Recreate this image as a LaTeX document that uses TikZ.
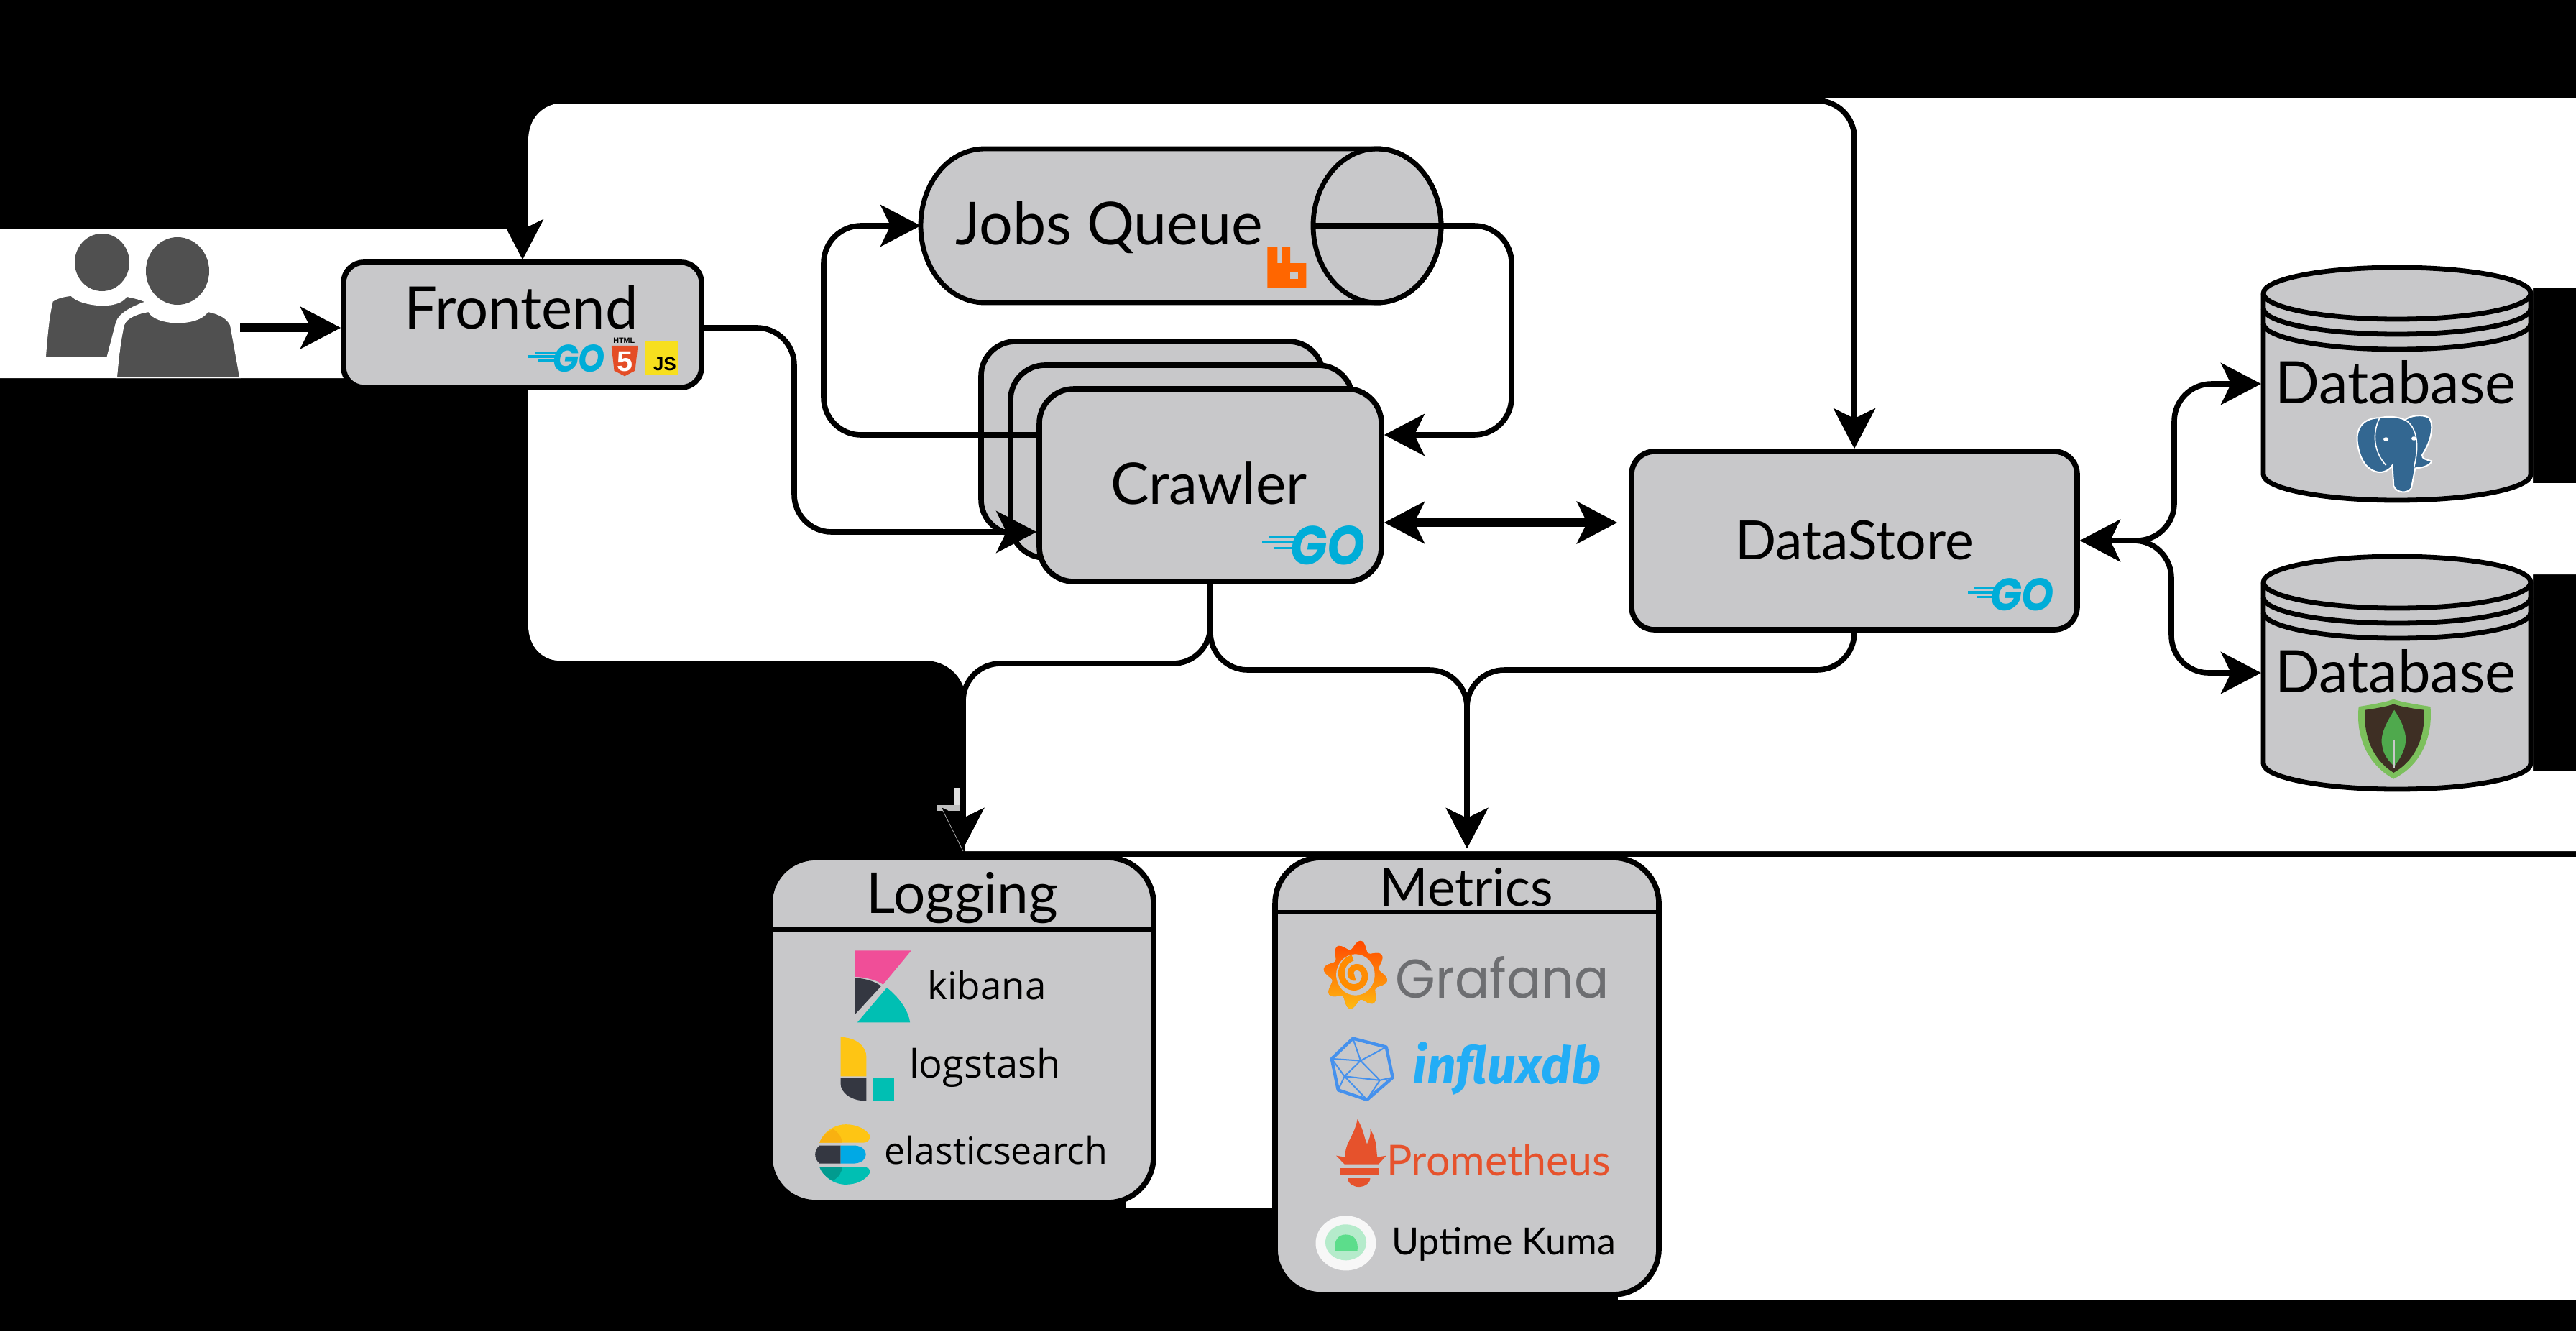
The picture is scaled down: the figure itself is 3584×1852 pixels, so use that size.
\documentclass[tikz,border=0pt]{standalone}
\usepackage{fontspec}
\usepackage{graphicx}
\usetikzlibrary{arrows.meta,calc}
\setmainfont{Lato}
\newfontfamily\opens{Open Sans}
\newfontfamily\fira{Fira Sans}
\newfontfamily\popp{Poppins}
\newfontfamily\libs{Liberation Sans}
\definecolor{boxgrey}{HTML}{C8C8CA}
\definecolor{gocyan}{HTML}{00ADD8}
\definecolor{peoplegrey}{HTML}{505050}
\definecolor{htmlorange}{HTML}{E44D26}
\definecolor{jsyellow}{HTML}{F7DF1E}
\definecolor{rabbit}{HTML}{FF6600}
\definecolor{pgblue}{HTML}{336791}
\definecolor{mgouter}{HTML}{7CC05C}
\definecolor{mgdark}{HTML}{3E2F24}
\definecolor{mgleaf}{HTML}{4FA94D}
\definecolor{kbpink}{HTML}{F04E98}
\definecolor{kbdark}{HTML}{343741}
\definecolor{kbteal}{HTML}{00BFB3}
\definecolor{lsyellow}{HTML}{FEC514}
\definecolor{esblue}{HTML}{00A9E5}
\definecolor{essliver}{HTML}{F9B110}
\definecolor{estealdk}{HTML}{019B8F}
\definecolor{gfgrey}{HTML}{6D6E71}
\definecolor{ifblue}{HTML}{22ADF6}
\definecolor{ifhex}{HTML}{4591ED}
\definecolor{promorange}{HTML}{E6522C}
\definecolor{kumalight}{HTML}{B5EBCB}
\definecolor{kumadark}{HTML}{5CDD8B}
\newcommand\wfit[2]{\pgfmathsetmacro\wfv{#1/4}\resizebox{\wfv pt}{!}{#2}}
\newcommand\gologo[6]{%
  \pgfmathsetmacro\gow{(#4-#3)/4}\pgfmathsetmacro\goh{(#6-#5)/4}
  \node[inner sep=0pt,text=gocyan] (#1) at ({(#3+#4)/2},{(#5+#6)/2}) {\resizebox{\gow pt}{\goh pt}{\popp\bfseries\itshape GO}};
  \draw[gocyan,line width=.8pt] ({#2+.25*(#3-#2)},{#5+.28*(#6-#5)}) -- ({#3+.1*(#4-#3)},{#5+.28*(#6-#5)});
  \draw[gocyan,line width=.8pt] (#2,{#5+.42*(#6-#5)}) -- ({#3+.05*(#4-#3)},{#5+.42*(#6-#5)});
  \draw[gocyan,line width=.8pt] ({#2+.4*(#3-#2)},{#5+.56*(#6-#5)}) -- ({#3+.03*(#4-#3)},{#5+.56*(#6-#5)});
}
\newcommand\dbcyl[2]{%
  \filldraw[fill=boxgrey,draw=black,line width=1.7pt]
    ({#1-186},{#2+36}) -- ({#1-186},{#2+288})
    .. controls ({#1-186},{#2+288+.552*36}) and ({#1-.552*186},{#2+324}) .. ({#1},{#2+324})
    .. controls ({#1+.552*186},{#2+324}) and ({#1+186},{#2+288+.552*36}) .. ({#1+186},{#2+288})
    -- ({#1+186},{#2+36})
    .. controls ({#1+186},{#2+36-.552*36}) and ({#1+.552*186},{#2}) .. ({#1},{#2})
    .. controls ({#1-.552*186},{#2}) and ({#1-186},{#2+36-.552*36}) .. ({#1-186},{#2+36}) -- cycle;
  \foreach \ringoff in {36,57,78}{
    \draw[black,line width=1.7pt]
      ({#1-186},{#2+\ringoff})
      .. controls ({#1-186},{#2+\ringoff+.552*36}) and ({#1-.552*186},{#2+\ringoff+36}) .. ({#1},{#2+\ringoff+36})
      .. controls ({#1+.552*186},{#2+\ringoff+36}) and ({#1+186},{#2+\ringoff+.552*36}) .. ({#1+186},{#2+\ringoff});
  }
}
\tikzset{
  >={Stealth[length=14pt,width=14.5pt,inset=3.5pt]},
  conn/.style={draw=black,line width=1.9pt,rounded corners=13pt},
  connthick/.style={conn,line width=3pt},
  boxn/.style={draw=black,fill=boxgrey,line width=1.9pt,inner sep=0pt},
  anchorn/.style={inner sep=0pt,outer sep=0pt},
  labeln/.style={inner sep=0pt,text=black},
}
\begin{document}
\begin{tikzpicture}[x=.25pt,y=-.25pt]
\useasboundingbox (0,0) rectangle (3584,1852);
% background
\fill[black] (0,0) rectangle (3584,1852);
\fill[white] (786,143) -- (786,136) -- (3584,136) -- (3584,400) -- (3524,400) -- (3524,672) -- (3584,672) -- (3584,799) -- (3524,799) -- (3524,1072) -- (3584,1072) -- (3584,1184) -- (1343,1184) -- (1343,975) .. controls (1343,945) and (1320,920) .. (1287,920) -- (783,920) .. controls (755,920) and (735,900) .. (735,870) -- (735,526) -- (0,526) -- (0,319) -- (735,319) -- (735,195) .. controls (735,165) and (755,143) .. (786,143) -- cycle;
\fill[white] (1343,1192) -- (3584,1192) -- (3584,1808) -- (2251,1808) -- (2251,1680) -- (1566,1680) -- (1566,1600) -- (1343,1600) -- cycle;
\fill[white!88!black] (1328,1096) rectangle (1336,1128);
\fill[white!75!black] (1304,1120) rectangle (1336,1128);
\coordinate (railT) at (0,140);
\coordinate (railL) at (0,923);
\coordinate (railM) at (0,932);
\coordinate (busU) at (3025,0);
\coordinate (busD) at (3021,0);
\coordinate (feX) at (1105,0);
\coordinate (jqL) at (1146,0);
\coordinate (jqR) at (2103,0);
% people
\node[anchorn,minimum width=68pt,minimum height=50pt] (users) at (198,425) {};
\fill[peoplegrey] (142,365) ellipse [x radius=38,y radius=40];
\filldraw[fill=peoplegrey,draw=white,line width=.4pt] (63,498) .. controls (66,460) and (68,440) .. (73,419) .. controls (80,414) and (90,412) .. (99,411) .. controls (110,425) and (165,432) .. (176,412) .. controls (185,414) and (195,416) .. (203,420) .. controls (175,430) and (163,440) .. (161,452) -- (149,498) -- cycle;
\fill[peoplegrey] (247,377) ellipse [x radius=44,y radius=47];
\filldraw[fill=peoplegrey,draw=white,line width=.5pt] (162,525) .. controls (165,490) and (168,470) .. (172,452) .. controls (176,440) and (195,435) .. (207,433) .. controls (215,452) and (275,455) .. (289,433) .. controls (305,436) and (316,442) .. (321,452) .. controls (326,480) and (330,500) .. (334,525) -- cycle;
% boxes
\node[boxn,rounded corners=7pt,minimum width=124.5pt,minimum height=43.5pt] (fe) at (727,452) {};
\node[labeln] (feL) at (725,428) {\wfit{325}{Frontend}};
\node[anchorn,minimum width=181pt,minimum height=53.5pt] (jq) at (1643,314) {};
\filldraw[fill=boxgrey,draw=black,line width=1.7pt] (1370,207) .. controls (1320,207) and (1281,255) .. (1281,314) .. controls (1281,373) and (1320,421) .. (1370,421) -- (1916,421) .. controls (1965,421) and (2005,373) .. (2005,314) .. controls (2005,255) and (1965,207) .. (1916,207) -- cycle;
\draw[black,line width=1.7pt] (1916,314) ellipse [x radius=89,y radius=107];
\node[labeln] (jqLabel) at (1543,316) {\wfit{428}{Jobs Queue}};
\node[boxn,rounded corners=12pt,minimum width=119pt,minimum height=67pt] (crC) at (1603,609) {};
\node[boxn,rounded corners=12pt,minimum width=119pt,minimum height=67pt] (crB) at (1644,642) {};
\node[boxn,rounded corners=12pt,minimum width=119pt,minimum height=67pt] (cr) at (1684,675) {};
\node[labeln] (crL) at (1682,672) {\wfit{274}{Crawler}};
\node[boxn,rounded corners=8pt,minimum width=155pt,minimum height=62pt] (ds) at (2580,752) {};
\node[labeln] (dsL) at (2580,752) {\wfit{331}{DataStore}};
\dbcyl{3335}{372}
\node[anchorn,minimum width=94.5pt,minimum height=81pt] (db1) at (3335,534) {};
\node[labeln] (db1L) at (3333,532) {\wfit{335}{Database}};
\dbcyl{3335}{774}
\node[anchorn,minimum width=94.5pt,minimum height=81pt] (db2) at (3335,936) {};
\node[labeln] (db2L) at (3333,934) {\wfit{335}{Database}};
% logging & metrics
\node[boxn,rounded corners=16pt,minimum width=133.5pt,minimum height=120pt] (lg) at (1338,1433) {};
\draw[black,line width=1.5pt] (1071,1293) -- (1605,1293);
\node[labeln] (lgL) at (1339,1249) {\wfit{266}{Logging}};
\node[boxn,rounded corners=16pt,minimum width=133.5pt,minimum height=152pt] (mx) at (2041,1497) {};
\draw[black,line width=1.5pt] (1774,1269) -- (2308,1269);
\node[labeln] (mxL) at (2040,1234) {\wfit{241}{Metrics}};
\coordinate (lgT) at ($(lg.north)+(2,-9)$);
\coordinate (mxT) at ($(mx.north)+(0,-9)$);
% connectors
\draw[connthick,->] ($(users.east)+(0,31)$) -- ($(fe.west)+(0,4)$);
\draw[conn,<->] (fe.north) |- (ds.north |- railT) -- (ds.north);
\draw[conn,->] (fe.south) |- (lgT |- railL) -- (lgT);
\draw[conn,->] (cr.south) |- (lgT |- railL) -- (lgT);
\draw[conn,->] (cr.south) |- (mxT |- railM) -- (mxT);
\draw[conn,->] (ds.south) |- (mxT |- railM) -- (mxT);
\draw[conn,->] ($(fe.east)+(0,4)$) -- (feX |- 0,456) -- (feX |- 0,740) -- ($(cr.west)+(0,65)$);
\draw[conn,->] ($(cr.west)+(0,-70)$) -- (jqL |- 0,605) -- (jqL |- jq.west) -- (jq.west);
\draw[conn,->] ($(jq.east)+(-179,0)$) -- (jqR |- jq.east) -- (jqR |- 0,605) -- ($(cr.east)+(0,-70)$);
\draw[connthick,<->] ($(cr.east)+(0,52)$) -- ($(ds.west)+(-16,-25)$);
\draw[conn,<->] (ds.east) -- (busU |- ds.east) -- (busU |- db1.west) -- (db1.west);
\draw[conn,<->] (ds.east) -- (busD |- ds.east) -- (busD |- db2.west) -- (db2.west);
\draw[white!70!black,line width=.2pt] (1312,1128) -- (1340,1184);
% Frontend logos
\gologo{goFe}{735}{769}{842}{480}{518}
\begin{scope}[shift={(0,100)},xscale=.765,yscale=.51]
  \fill[htmlorange] (1112,747) -- (1160,747) -- (1155,815) -- (1136,830) -- (1117,815) -- cycle;
  \node[inner sep=0pt,text=white] (h5) at (1136,790) {\wfit{22}{\libs\bfseries 5}};
  \node[inner sep=0pt,text=black] (h5t) at (1135,733) {\wfit{30}{\libs\bfseries HTML}};
  \fill[jsyellow] (1172,733) rectangle (1233,828);
  \node[inner sep=0pt,text=black] (js) at (1209,798) {\wfit{32}{\libs\bfseries JS}};
\end{scope}
% rabbit
\begin{scope}[shift={(1100,100)},xscale=.702,yscale=.51]
  \fill[rabbit] (945,477) -- (965,477) -- (965,522) -- (973,522) -- (973,477) -- (990,477) -- (990,522) -- (1022,522) -- (1022,590) -- (945,590) -- cycle;
  \fill[boxgrey] (990,545) rectangle (1005,565);
\end{scope}
\gologo{goCr}{1756}{1795}{1899}{732}{786}
\gologo{goDs}{2738}{2769}{2858}{805}{850}
% elephant
\begin{scope}[shift={(2200,300)},xscale=.883,yscale=.574]
  \filldraw[fill=pgblue,draw=white,line width=.5pt] (1258,490) .. controls (1230,490) and (1218,520) .. (1224,560) .. controls (1228,595) and (1240,620) .. (1258,622) .. controls (1268,622) and (1276,612) .. (1278,605) -- (1280,655) .. controls (1284,672) and (1302,675) .. (1308,660) -- (1314,612) .. controls (1325,612) and (1338,605) .. (1340,595) .. controls (1330,590) and (1325,590) .. (1325,580) .. controls (1338,550) and (1345,510) .. (1336,490) .. controls (1325,480) and (1305,485) .. (1298,495) .. controls (1285,486) and (1270,486) .. (1258,490) -- cycle;
  \draw[white,line width=.4pt] (1258,490) .. controls (1245,530) and (1250,575) .. (1268,605) (1298,495) .. controls (1315,510) and (1322,550) .. (1312,610);
  \fill[white] (1268,542) ellipse [x radius=4,y radius=5];
  \fill[white] (1312,540) ellipse [x radius=4,y radius=5];
% mongo
  \fill[mgouter] (1225,1190) .. controls (1245,1185) and (1265,1180) .. (1280,1172) .. controls (1295,1180) and (1318,1185) .. (1338,1190) .. controls (1342,1260) and (1325,1330) .. (1280,1365) .. controls (1238,1330) and (1220,1260) .. (1225,1190) -- cycle;
  \fill[mgdark] (1235,1198) .. controls (1250,1195) and (1268,1190) .. (1280,1184) .. controls (1292,1190) and (1312,1195) .. (1328,1198) .. controls (1330,1262) and (1315,1320) .. (1280,1350) .. controls (1248,1320) and (1232,1262) .. (1235,1198) -- cycle;
  \fill[mgleaf] (1281,1198) .. controls (1295,1230) and (1302,1260) .. (1298,1285) .. controls (1294,1310) and (1285,1325) .. (1281,1335) .. controls (1275,1325) and (1264,1310) .. (1262,1285) .. controls (1258,1260) and (1268,1230) .. (1281,1198) -- cycle;
  \draw[boxgrey,line width=.4pt] (1281,1270) -- (1281,1340);
\end{scope}
% logging and metrics logos
\begin{scope}[shift={(1000,1000)},xscale=.893,yscale=.5435]
  \fill[kbpink] (212,593) -- (300,593) -- (256,680) .. controls (245,668) and (230,662) .. (212,660) -- cycle;
  \fill[kbdark] (212,663) .. controls (230,665) and (243,672) .. (253,684) -- (212,757) -- cycle;
  \fill[kbteal] (262,688) .. controls (282,715) and (295,745) .. (298,777) -- (216,777) -- cycle;
  \node[inner sep=0pt] (kbT) at (418,682) {\wfit{165}{\opens kibana}};
  \fill[lsyellow] (190,815) .. controls (215,815) and (230,840) .. (230,865) -- (230,915) -- (190,915) -- cycle;
  \fill[kbdark] (190,920) -- (230,920) -- (230,978) .. controls (205,978) and (190,955) .. (190,935) -- cycle;
  \fill[kbteal] (240,918) rectangle (273,978);
  \node[inner sep=0pt] (lsT) at (415,893) {\wfit{211}{\opens logstash}};
  \fill[lsyellow] (157,1085) .. controls (165,1050) and (185,1038) .. (198,1038) .. controls (215,1038) and (230,1050) .. (236,1068) .. controls (236,1080) and (230,1085) .. (225,1085) -- cycle;
  \fill[essliver] (157,1085) .. controls (160,1070) and (168,1058) .. (178,1050) .. controls (188,1060) and (192,1072) .. (192,1085) -- cycle;
  \fill[kbdark] (157,1092) -- (190,1092) -- (190,1138) -- (157,1138) .. controls (148,1125) and (148,1105) .. (157,1092) -- cycle;
  \fill[esblue] (190,1092) -- (212,1092) .. controls (235,1095) and (235,1135) .. (212,1138) -- (190,1138) -- cycle;
  \fill[kbteal] (157,1147) -- (225,1147) .. controls (232,1147) and (236,1152) .. (236,1160) .. controls (230,1180) and (215,1192) .. (198,1192) .. controls (180,1192) and (165,1175) .. (157,1147) -- cycle;
  \fill[estealdk] (157,1147) -- (192,1147) .. controls (192,1160) and (188,1172) .. (178,1182) .. controls (168,1175) and (160,1162) .. (157,1147) -- cycle;
  \node[inner sep=0pt] (esT) at (432,1104) {\wfit{311}{\opens elasticsearch}};
  % grafana
  \begin{scope}[shift={(992,655)},xscale=50,yscale=88]
    \path[fill=orange,top color=rabbit!70!red,bottom color=lsyellow!85!orange] plot[domain=0:360,samples=145,smooth] ({(.87+.13*cos(8*\x))*cos(\x+10)},{(.87+.13*cos(8*\x))*sin(\x+10)}) -- cycle;
    \fill[boxgrey] (0,0) circle (.6);
    \draw[rabbit!75!yellow,line width=2.2pt] plot[domain=0:520,samples=70,smooth] ({(.08+\x/520*.42)*cos(\x+100)},{(.08+\x/520*.42)*sin(\x+100)});
  \end{scope}
  \node[inner sep=0pt,text=gfgrey] (gfT) at (1221,662) {\resizebox{74.25pt}{14.5pt}{\popp Grafana}};
  % influx
  \draw[ifhex,line width=1.1pt,line join=round] (988,818) -- (1040,840) -- (1050,918) -- (1010,975) -- (965,950) -- (955,870) -- cycle;
  \draw[ifhex,line width=.5pt] (988,818) -- (1000,875) -- (1040,840) (955,870) -- (1000,875) -- (1030,925) -- (1050,918) (1030,925) -- (1010,975) -- (975,915) -- (965,950) (975,915) -- (1000,875) (975,915) -- (955,870) (975,915) -- (1030,925);
  \node[inner sep=0pt,text=ifblue] (ifT) at (1228,895) {\wfit{262}{\fira\bfseries\itshape influxdb}};
  % prometheus
  \fill[promorange] (975,1140) -- (962,1118) -- (976,1122) .. controls (975,1085) and (990,1070) .. (995,1025) .. controls (1006,1055) and (1005,1072) .. (1010,1088) .. controls (1014,1075) and (1016,1065) .. (1015,1050) .. controls (1026,1080) and (1024,1100) .. (1026,1122) -- (1040,1118) -- (1028,1140) -- cycle;
  \fill[promorange] (968,1150) rectangle (1028,1168);
  \fill[promorange] (980,1176) -- (1015,1176) .. controls (1015,1190) and (1005,1198) .. (997,1198) .. controls (990,1198) and (980,1190) .. (980,1176) -- cycle;
  \node[inner sep=0pt,text=promorange] (prT) at (1215,1130) {\wfit{312}{Prometheus}};
  % uptime kuma
  \fill[white!97!black] (977,1342) ellipse [x radius=47,y radius=70];
  \fill[kumalight] (977,1340) ellipse [x radius=32,y radius=46];
  \fill[kumadark] (960,1362) .. controls (958,1335) and (965,1320) .. (977,1320) .. controls (990,1320) and (997,1335) .. (995,1362) -- cycle;
  \node[inner sep=0pt] (ukT) at (1223,1345) {\wfit{312}{Uptime Kuma}};
\end{scope}
\end{tikzpicture}
\end{document}
